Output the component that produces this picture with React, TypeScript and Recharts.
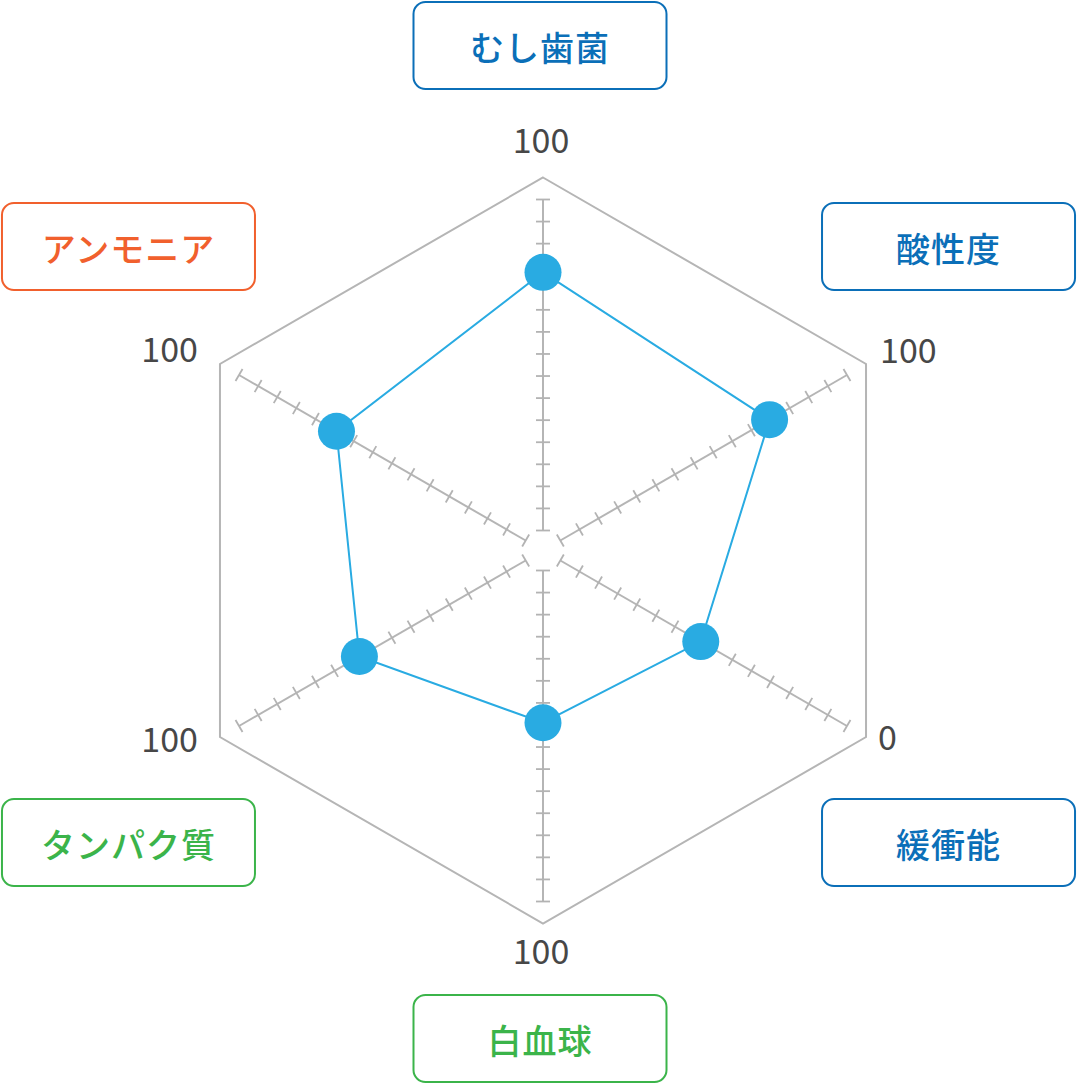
import React from 'react';
import { RadarChart, Radar, PolarGrid, PolarAngleAxis, PolarRadiusAxis } from 'recharts';

// categories clockwise from the top
const categories = ['むし歯菌', '酸性度', '緩衝能', '白血球', 'タンパク質', 'アンモニア'];
const scores = [78, 73, 51, 46, 58, 66];
// 緩衝能 runs the other way: 0 sits at the outer end
const reversed = [false, false, true, false, false, false];
const endLabels = ['100', '100', '0', '100', '100', '100'];
const labelColors = ['#0b6fb8', '#0b6fb8', '#0b6fb8', '#3bb44a', '#3bb44a', '#f1602d'];
const axisAngles = [90, 30, -30, -90, -150, 150];
const radiusTicks = Array.from({ length: 16 }, (_, i) => (i * 100) / 15);

const data = categories.map((name, i) => ({
  name,
  value: reversed[i] ? 100 - scores[i] : scores[i],
}));

const CX = 543;
const CY = 550.5;
const GRID = '#b5b5b5';
const FONT = '"Noto Sans CJK JP", "Noto Sans", sans-serif';

// offsets from the hexagon vertex: end label (t) and name box centre (b)
const layout = [
  { anchor: 'middle', tx: -2, ty: -25, bx: -3, by: -132 },
  { anchor: 'start', tx: 14, ty: -1, bx: 82.5, by: -117.5 },
  { anchor: 'start', tx: 12, ty: 13, bx: 82.5, by: 105.5 },
  { anchor: 'middle', tx: -2, ty: 40, bx: -3, by: 115 },
  { anchor: 'end', tx: -22, ty: 15, bx: -91.5, by: 105.5 },
  { anchor: 'end', tx: -22, ty: -2, bx: -91.5, by: -117.5 },
];

const makeRadiusTick = (angle: number) => (props: any) => {
  const { x, y } = props;
  return (
    <line
      x1={x - 7}
      y1={y}
      x2={x + 7}
      y2={y}
      stroke="#b3b3b3"
      strokeWidth={1.8}
      transform={`rotate(${90 - angle}, ${x}, ${y})`}
    />
  );
};

function AngleTick(props: any) {
  const { x, y, payload } = props;
  const i = categories.indexOf(payload.value);
  if (i < 0) return null;
  const l = layout[i];
  const color = labelColors[i];
  const bx = x + l.bx;
  const by = y + l.by;
  return (
    <g>
      <text
        x={x + l.tx}
        y={y + l.ty}
        textAnchor={l.anchor}
        fontSize={34}
        fill="#474747"
        fontFamily={FONT}
      >
        {endLabels[i]}
      </text>
      <rect
        x={bx - 126.5}
        y={by - 43.5}
        width={253}
        height={87}
        rx={12}
        ry={12}
        fill="#fff"
        stroke={color}
        strokeWidth={2}
      />
      <text
        x={bx}
        y={by + 1}
        textAnchor="middle"
        dominantBaseline="central"
        fontSize={34}
        fontWeight={500}
        letterSpacing={1}
        fill={color}
        fontFamily={FONT}
      >
        {payload.value}
      </text>
    </g>
  );
}

export default function App() {
  return (
    <div style={{ position: 'absolute', left: 0, top: 0, width: 1077, height: 1084, background: '#fff' }}>
      <RadarChart
        width={1077}
        height={1084}
        data={data}
        cx={CX}
        cy={CY}
        innerRadius={20}
        outerRadius={351}
        startAngle={90}
        endAngle={-270}
        margin={{ top: 0, right: 0, bottom: 0, left: 0 }}
      >
        <PolarGrid gridType="polygon" polarRadius={[373]} radialLines={false} stroke={GRID} strokeWidth={2} />
        <PolarAngleAxis
          dataKey="name"
          axisLine={false}
          tickLine={false}
          tickSize={22}
          tick={<AngleTick />}
        />
        {axisAngles.map((angle, i) => (
          <PolarRadiusAxis
            key={i}
            radiusAxisId={i}
            angle={angle}
            type="number"
            domain={[0, 100]}
            allowDataOverflow
            ticks={radiusTicks}
            axisLine={{ stroke: GRID, strokeWidth: 2 }}
            tick={makeRadiusTick(angle)}
          />
        ))}
        <Radar
          dataKey="value"
          radiusAxisId={0}
          stroke="#29abe2"
          strokeWidth={2}
          fill="none"
          fillOpacity={0}
          dot={{ r: 18.5, fill: '#29abe2', fillOpacity: 1, stroke: 'none', strokeWidth: 0 }}
          isAnimationActive={false}
        />
      </RadarChart>
    </div>
  );
}
